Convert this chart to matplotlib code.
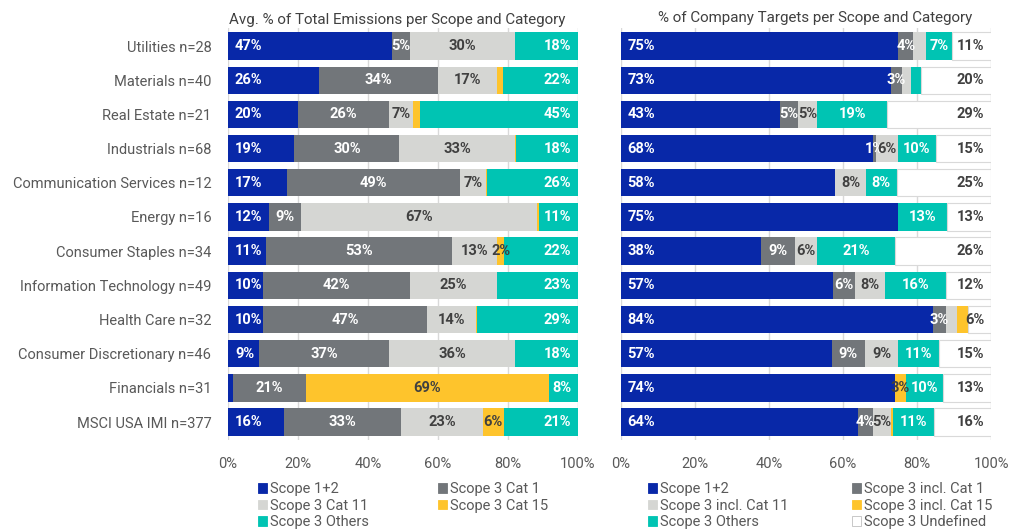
import matplotlib
matplotlib.use('Agg')
import matplotlib.pyplot as plt
from matplotlib.patches import Patch
import numpy as np

plt.rcParams['font.family'] = ['Roboto', 'DejaVu Sans']

sectors = ["Utilities n=28", "Materials n=40", "Real Estate n=21", "Industrials n=68",
           "Communication Services n=12", "Energy n=16", "Consumer Staples n=34",
           "Information Technology n=49", "Health Care n=32", "Consumer Discretionary n=46",
           "Financials n=31", "MSCI USA IMI n=377"]

# avg share of total emissions (%)
em_names = ["Scope 1+2", "Scope 3 Cat 1", "Scope 3 Cat 11", "Scope 3 Cat 15", "Scope 3 Others"]
em_s12   = [47, 26, 20, 19, 17, 11.8, 11, 10, 10, 9, 1.3, 16]
em_cat1  = [5, 34, 26, 30, 49.3, 9.2, 53, 42, 47, 37, 21, 33.4]
em_cat11 = [30, 17, 7, 33, 7.4, 67.4, 13, 25, 14, 36, 0, 23.4]
em_cat15 = [0, 1.5, 2, 0.3, 0.3, 0.5, 2, 0, 0.2, 0, 69.4, 6]
em_other = [18, 22, 45, 18, 26, 11.1, 22, 23, 29, 18, 8.3, 21.2]

# share of company targets (%)
tg_names = ["Scope 1+2", "Scope 3 incl. Cat 1", "Scope 3 incl. Cat 11",
            "Scope 3 incl. Cat 15", "Scope 3 Others", "Scope 3 Undefined"]
tg_s12   = [75, 73, 43, 68, 58, 75, 38, 57.3, 84.4, 57, 74, 64]
tg_cat1  = [4, 3, 5, 1, 0, 0, 9, 6, 3.3, 9, 0, 4]
tg_cat11 = [3.5, 2.4, 5, 6, 8.2, 0, 6, 8.2, 3, 9, 0, 5]
tg_cat15 = [0, 0, 0, 0, 0, 0, 0, 0, 3.2, 0, 3, 0.5]
tg_other = [7, 2.6, 19, 10, 8.4, 13, 21, 16.2, 0, 11, 10, 11]
tg_undef = [11, 20, 29, 15, 25.4, 13, 26, 12.3, 6.1, 15, 13, 16]

# labels left off (row, series) because the segment is too thin
em_hidden = {(1, 3), (2, 3), (3, 3), (4, 3), (5, 3), (8, 3), (10, 0)}
tg_hidden = {(0, 2), (1, 2), (1, 4), (8, 2), (8, 3), (11, 3)}

BLUE = "#0828a8"
DGREY = "#72767a"
LGREY = "#d5d6d3"
YELLOW = "#fec42c"
TEAL = "#00c4b3"
WHITE = "#ffffff"
TXT = "#595959"


def draw(ax, series, colors, txtcolors, modes, hidden, edges):
    y = np.arange(len(sectors))
    left = np.zeros(len(sectors))
    for j, vals in enumerate(series):
        vals = np.array(vals, dtype=float)
        ax.barh(y, vals, left=left, height=0.8, color=colors[j],
                edgecolor=edges[j], linewidth=0.8 if edges[j] != 'none' else 0, zorder=2)
        for i, v in enumerate(vals):
            if v <= 0 or (i, j) in hidden:
                continue
            s = "%d%%" % round(v)
            if modes[j] == 'base':
                ax.annotate(s, (left[i], y[i]), xytext=(5, 0), textcoords='offset points',
                            ha='left', va='center', color=txtcolors[j], fontsize=10.5,
                            fontweight='bold', zorder=3)
            elif modes[j] == 'end':
                ax.annotate(s, (min(left[i] + v, 100), y[i]), xytext=(-5, 0),
                            textcoords='offset points', ha='right', va='center',
                            color=txtcolors[j], fontsize=10.5, fontweight='bold', zorder=3)
            else:
                ax.text(left[i] + v / 2, y[i], s, ha='center', va='center',
                        color=txtcolors[j], fontsize=10.5, fontweight='bold', zorder=3)
        left += vals
    ax.set_xlim(0, 100)
    ax.set_ylim(len(sectors) - 0.5 + 0.03, -0.53)
    ax.set_xticks(range(0, 101, 20))
    ax.set_xticklabels(["%d%%" % t for t in range(0, 101, 20)])
    ax.grid(axis='x', color="#d9d9d9", linewidth=1, zorder=0)
    ax.tick_params(length=0, labelsize=10.5, labelcolor=TXT, pad=12)
    for sp in ax.spines.values():
        sp.set_visible(False)


fig = plt.figure(figsize=(10.11, 5.29), dpi=100)
ax1 = fig.add_axes([0.2255, 0.168, 0.3462, 0.779])
ax2 = fig.add_axes([0.6138, 0.168, 0.3665, 0.779])

em_colors = [BLUE, DGREY, LGREY, YELLOW, TEAL]
em_txt = [WHITE, WHITE, "#404040", "#404040", WHITE]
draw(ax1, [em_s12, em_cat1, em_cat11, em_cat15, em_other], em_colors, em_txt,
     ['base', 'center', 'center', 'center', 'end'], em_hidden, ['none'] * 5)
ax1.set_yticks(range(len(sectors)))
ax1.set_yticklabels(sectors, fontsize=10.5)
ax1.tick_params(axis='y', pad=12)
ax1.set_title("Avg. % of Total Emissions per Scope and Category", fontsize=10.9,
              color="#404040", pad=3, x=0.483)

tg_colors = [BLUE, DGREY, LGREY, YELLOW, TEAL, WHITE]
tg_txt = [WHITE, WHITE, "#404040", "#404040", WHITE, "#404040"]
draw(ax2, [tg_s12, tg_cat1, tg_cat11, tg_cat15, tg_other, tg_undef], tg_colors, tg_txt,
     ['base', 'center', 'center', 'center', 'center', 'end'], tg_hidden,
     ['none'] * 5 + ["#d9d9d9"])
ax2.set_yticks([])
ax2.set_title("% of Company Targets per Scope and Category", fontsize=10.9,
              color="#404040", pad=4, x=0.525)


def legend(x, names, colors, order, spacing):
    hs = [Patch(facecolor=colors[k], edgecolor='#bfbfbf' if colors[k] == WHITE else colors[k],
                linewidth=0.6) for k in order]
    fig.legend(hs, [names[k] for k in order], loc='upper left', bbox_to_anchor=(x, 0.088),
               ncol=2, frameon=False, fontsize=10.5, labelcolor=TXT, handlelength=0.65,
               handleheight=0.65, handletextpad=0.2, labelspacing=0.15, columnspacing=spacing,
               borderpad=0, borderaxespad=0)


legend(258 / 1011, em_names, em_colors, [0, 2, 4, 1, 3], 4.7)
legend(648 / 1011, tg_names, tg_colors, [0, 2, 4, 1, 3, 5], 4.3)

fig.savefig("out.png", dpi=100)
